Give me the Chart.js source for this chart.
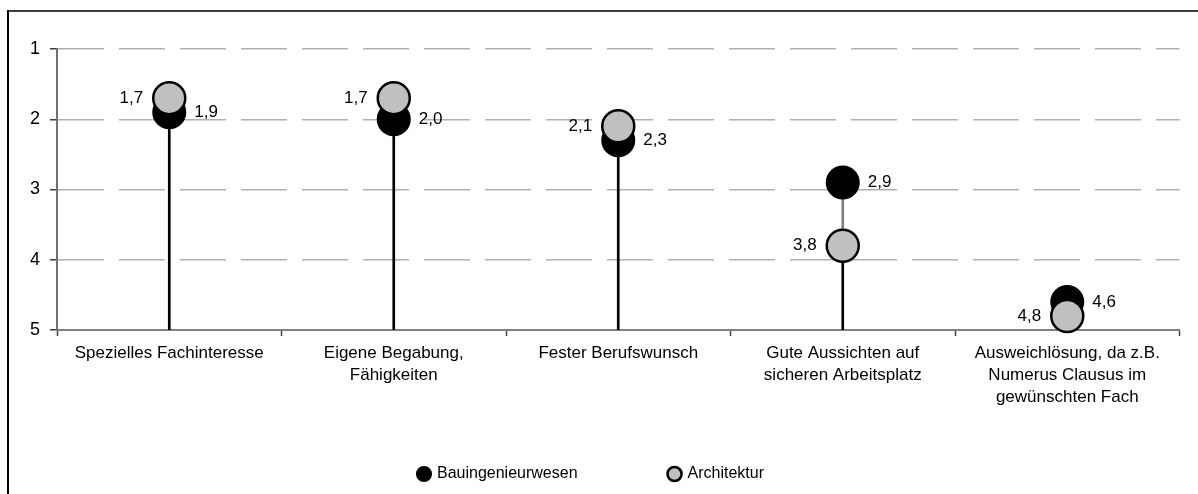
<!DOCTYPE html>
<html>
<head>
<meta charset="utf-8">
<script src="https://cdn.jsdelivr.net/npm/chart.js@4.4.1/dist/chart.umd.min.js"></script>
<style>
  html, body { margin: 0; padding: 0; background: #fff; }
  #wrap { width: 1198px; height: 494px; }
</style>
</head>
<body>
<div id="wrap"><canvas id="myChart" width="1198" height="494"></canvas></div>
<script>
const categories = [
  "Spezielles Fachinteresse",
  ["Eigene Begabung,", "Fähigkeiten"],
  "Fester Berufswunsch",
  ["Gute Aussichten auf", "sicheren Arbeitsplatz"],
  ["Ausweichlösung, da z.B.", "Numerus Clausus im", "gewünschten Fach"],
];
const bauValues = [1.9, 2.0, 2.3, 2.9, 4.6];
const archValues = [1.7, 1.7, 2.1, 3.8, 4.8];
const yTicks = [1, 2, 3, 4, 5];

const FONT = "'Liberation Sans', Arial, sans-serif";

// stems: black from the bottom to the lower marker, grey between the two markers
const stemLow = bauValues.map((b, i) => [5, Math.max(b, archValues[i])]);
const stemHigh = bauValues.map((b, i) => [Math.max(b, archValues[i]), Math.min(b, archValues[i])]);

const fmt = (v) => v.toFixed(1).replace(".", ",");

const frame = {
  id: "frame",
  beforeDraw(chart) {
    const c = chart.ctx;
    c.save();
    c.lineWidth = 2;
    c.strokeStyle = "#404040";
    c.beginPath();
    c.moveTo(7, 11);
    c.lineTo(1198, 11);
    c.stroke();
    c.strokeStyle = "#000";
    c.beginPath();
    c.moveTo(8, 10);
    c.lineTo(8, 494);
    c.stroke();
    c.restore();
  },
  // let the multi-line category labels run below the axis box
  afterLayout(chart) {
    chart.scales.x.bottom = chart.height;
  },
};

const valueLabels = {
  id: "valueLabels",
  afterDatasetsDraw(chart) {
    const c = chart.ctx;
    c.save();
    c.font = "17px " + FONT;
    c.fillStyle = "#000";
    c.textBaseline = "middle";
    chart.data.datasets.forEach((ds, di) => {
      if (!ds.side) return;
      const meta = chart.getDatasetMeta(di);
      meta.data.forEach((pt, i) => {
        if (ds.side === "right") {
          c.textAlign = "left";
          c.fillText(fmt(ds.data[i]), pt.x + 25, pt.y);
        } else {
          c.textAlign = "right";
          c.fillText(fmt(ds.data[i]), pt.x - 26, pt.y);
        }
      });
    });
    c.restore();
  },
};

const ctx = document.getElementById("myChart").getContext("2d");

new Chart(ctx, {
  type: "bar",
  data: {
    labels: categories,
    datasets: [
      {
        type: "line",
        label: "Bauingenieurwesen",
        data: bauValues,
        side: "right",
        showLine: false,
        pointStyle: "circle",
        pointRadius: 16,
        pointHoverRadius: 16,
        pointBackgroundColor: "#000",
        pointBorderColor: "#000",
        pointBorderWidth: 2,
        backgroundColor: "#000",
        borderColor: "#000",
        borderWidth: 2,
        clip: false,
        order: 1,
      },
      {
        type: "line",
        label: "Architektur",
        data: archValues,
        side: "left",
        showLine: false,
        pointStyle: "circle",
        pointRadius: 16,
        pointHoverRadius: 16,
        pointBackgroundColor: "#c0c0c0",
        pointBorderColor: "#000",
        pointBorderWidth: 2.5,
        backgroundColor: "#c0c0c0",
        borderColor: "#000",
        borderWidth: 2,
        clip: false,
        order: 0,
      },
      {
        label: "stemLow",
        data: stemLow,
        backgroundColor: "#000",
        barThickness: 2,
        grouped: false,
        order: 3,
      },
      {
        label: "stemHigh",
        data: stemHigh,
        backgroundColor: "#808080",
        barThickness: 2,
        grouped: false,
        order: 2,
      },
    ],
  },
  options: {
    responsive: false,
    animation: false,
    layout: { padding: { top: 49, right: 15, left: 0, bottom: 2 } },
    plugins: {
      tooltip: { enabled: false },
      legend: {
        position: "bottom",
        labels: {
          filter: (item) => item.text.indexOf("stem") !== 0,
          sort: (a, b) => a.datasetIndex - b.datasetIndex,
          usePointStyle: true,
          boxWidth: 10,
          boxHeight: 10,
          padding: 92,
          color: "#000",
          font: { family: FONT, size: 16 },
        },
      },
    },
    scales: {
      x: {
        offset: true,
        grid: {
          display: true,
          offset: true,
          drawOnChartArea: false,
          drawTicks: true,
          tickLength: 6,
          tickColor: "#404040",
          tickWidth: 1.5,
        },
        border: { color: "#808080", width: 2 },
        ticks: {
          color: "#000",
          font: { family: FONT, size: 17, lineHeight: 1.3 },
          padding: 6,
          maxRotation: 0,
          autoSkip: false,
        },
        afterFit: (scale) => {
          scale.height = 44;
        },
      },
      y: {
        reverse: true,
        min: 1,
        max: 5,
        afterBuildTicks: (scale) => {
          scale.ticks = yTicks.map((v) => ({ value: v }));
        },
        grid: {
          color: "#b0b0b0",
          lineWidth: 1.5,
          drawTicks: true,
          tickLength: 7,
          tickColor: "#404040",
          tickWidth: 1.5,
          tickBorderDash: [],
        },
        border: { color: "#707070", width: 2, dash: [46, 15] },
        ticks: {
          color: "#000",
          font: { family: FONT, size: 18 },
          padding: 10,
        },
        afterFit: (scale) => {
          scale.width = 57;
        },
      },
    },
  },
  plugins: [frame, valueLabels],
});
</script>
</body>
</html>
